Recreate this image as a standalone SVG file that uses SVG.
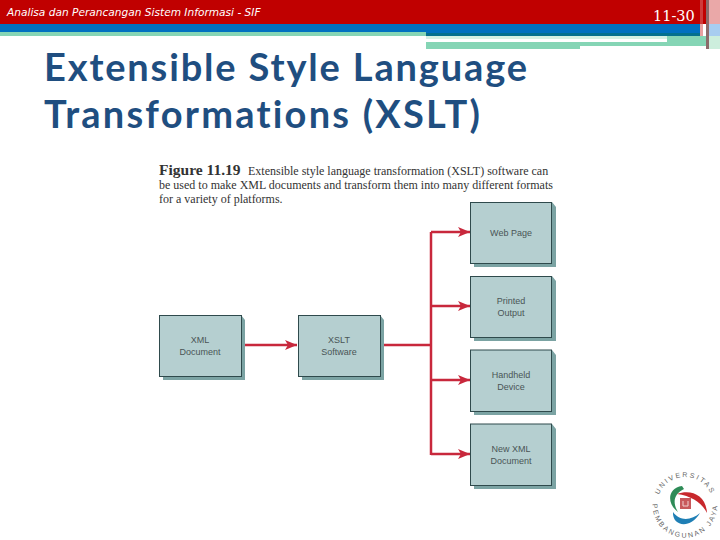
<svg xmlns="http://www.w3.org/2000/svg" width="720" height="540" viewBox="0 0 720 540">
<style>
.box{fill:#b5cfd0;stroke:#2f4a4c;stroke-width:1}
.sh{fill:#7ba3a3}
.lb{font-family:"Liberation Sans",Arial,sans-serif;font-size:9px;fill:#4a5556;text-anchor:middle}
.cap{font-family:"Liberation Serif","Times New Roman",serif;font-size:12px;fill:#333}
.ln{fill:none;stroke:#c8283c;stroke-width:2.5}
.ttl{font-family:Lato,"Open Sans",sans-serif;font-weight:bold;font-size:38px;fill:#1f4e80;font-variant-ligatures:none}
.rg{font-family:"Liberation Sans",sans-serif;font-size:7px;fill:#666;letter-spacing:1.9px;text-anchor:middle}
</style>
<defs>
<marker id="ah" markerUnits="userSpaceOnUse" markerWidth="13" markerHeight="11" refX="12" refY="5.500" orient="auto"><path d="M0 0.500L12 5.500L0 10.500L3 5.500Z" fill="#c8283c"/></marker>
<path id="ringTop" d="M657 505A28 28 0 0 1 713 505"/>
<path id="ringBot" d="M653 501A32.300 32.300 0 1 0 717 501"/>
</defs>
<rect width="720" height="24" fill="#c00000"/>
<rect y="24" width="700" height="8" fill="#0070c0"/>
<rect y="32" width="426" height="4" fill="#85d5b5"/>
<rect x="426" y="32" width="274" height="4" fill="#0070c0"/>
<rect x="426" y="33" width="274" height="3" fill="#04708e"/>
<rect x="426" y="36" width="241" height="3" fill="#d5f0e3"/>
<rect x="667" y="36" width="40" height="10" fill="#85d5b5"/>
<rect x="426" y="42" width="154" height="7" fill="#85d5b5"/>
<rect x="580" y="42" width="87" height="4" fill="#85d5b5"/>
<rect x="700" y="0" width="3" height="36" fill="#d86060" opacity=".6"/>
<rect x="706" y="0" width="3" height="49" fill="#8c6a6a"/>
<rect x="709" y="0" width="11" height="24" fill="#eaa8a8"/>
<rect x="709" y="24" width="11" height="12" fill="#a8cdf0"/>
<rect x="709" y="36" width="11" height="13" fill="#cdeedd"/>
<text x="7" y="16" font-family="'DejaVu Sans',sans-serif" font-style="italic" font-size="10.600" fill="#fff">Analisa dan Perancangan Sistem Informasi - SIF</text>
<text x="653" y="21" font-family="'DejaVu Serif',serif" font-size="14.500" fill="#fff">11-30</text>
<text class="ttl" x="44" y="81" textLength="483" lengthAdjust="spacing">Extensible Style Language</text>
<text class="ttl" x="44" y="128" textLength="436" lengthAdjust="spacing">Transformations (XSLT)</text>
<text class="cap" x="159" y="175"><tspan font-weight="bold" font-size="15.500">Figure 11.19</tspan><tspan x="248">Extensible style language transformation (XSLT) software can</tspan></text>
<text class="cap" x="159" y="189">be used to make XML documents and transform them into many different formats</text>
<text class="cap" x="159" y="203">for a variety of platforms.</text>
<g id="connectors">
<path class="ln" d="M245 345H297" marker-end="url(#ah)"/>
<path class="ln" d="M384 345H431"/>
<path class="ln" d="M431 455V232"/>
<path class="ln" d="M431 232H470" marker-end="url(#ah)"/>
<path class="ln" d="M431 306H470" marker-end="url(#ah)"/>
<path class="ln" d="M431 380H470" marker-end="url(#ah)"/>
<path class="ln" d="M431 454H470" marker-end="url(#ah)"/>
</g>
<g id="xml-document"><path class="sh" d="M163 377V380H245V320L241 315V377Z"/><rect class="box" x="159.500" y="315.500" width="82" height="61"/><text class="lb" x="200" y="343">XML</text><text class="lb" x="200" y="355">Document</text></g>
<g id="xslt-software"><path class="sh" d="M302 377V380H384V320L380 315V377Z"/><rect class="box" x="298.500" y="315.500" width="82" height="61"/><text class="lb" x="339" y="343">XSLT</text><text class="lb" x="339" y="355">Software</text></g>
<g id="web-page"><path class="sh" d="M474 264V267H556V207L552 202V264Z"/><rect class="box" x="470.500" y="202.500" width="81" height="61"/><text class="lb" x="511" y="236">Web Page</text></g>
<g id="printed-output"><path class="sh" d="M474 338V341H556V281L552 276V338Z"/><rect class="box" x="470.500" y="276.500" width="81" height="61"/><text class="lb" x="511" y="304">Printed</text><text class="lb" x="511" y="316">Output</text></g>
<g id="handheld-device"><path class="sh" d="M474 412V415H556V355L552 350V412Z"/><rect class="box" x="470.500" y="350" width="81" height="61.500"/><text class="lb" x="511" y="378">Handheld</text><text class="lb" x="511" y="390">Device</text></g>
<g id="new-xml-document"><path class="sh" d="M474 486V489H556V429L552 424V486Z"/><rect class="box" x="470.500" y="424" width="81" height="61.500"/><text class="lb" x="511" y="452">New XML</text><text class="lb" x="511" y="464">Document</text></g>
<g id="logo">
<text class="rg"><textPath href="#ringTop" startOffset="50%">UNIVERSITAS</textPath></text>
<text class="rg"><textPath href="#ringBot" startOffset="50%">PEMBANGUNAN JAYA</textPath></text>
<path d="M682 486C668 488 666 503 678 512C672 502 674 494 684 489Z" fill="#2e8b57"/>
<path d="M677 494C690 489 706 494 707 513C702 503 692 496 677 494Z" fill="#c8282c"/>
<path d="M673 512C672 526 690 530 700 513C692 520 680 522 673 512Z" fill="#1f7fb5"/>
<rect x="680" y="498" width="11" height="11" fill="#c8585c"/>
<path d="M683 501V506H688V501" fill="none" stroke="#f0d0d0"/>
</g>
</svg>
